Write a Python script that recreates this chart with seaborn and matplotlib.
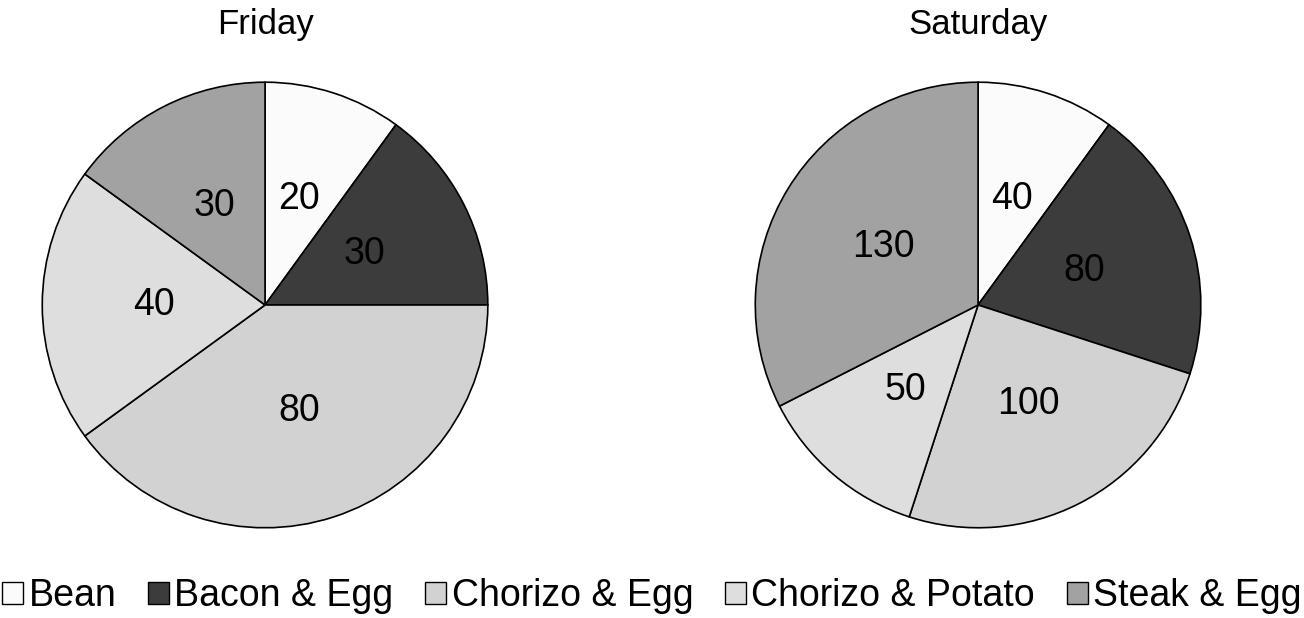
import seaborn as sns
import matplotlib.pyplot as plt
from matplotlib.patches import Patch

categories = ['Bean', 'Bacon & Egg', 'Chorizo & Egg', 'Chorizo & Potato', 'Steak & Egg']
friday = [20, 30, 80, 40, 30]
saturday = [40, 80, 100, 50, 130]
days = ['Friday', 'Saturday']
colors = ['#fbfbfb', '#3c3c3c', '#d2d2d2', '#dedede', '#a2a2a2']

sns.set_style('white')
plt.rcParams['font.family'] = ['Liberation Sans', 'DejaVu Sans']
plt.rcParams['text.color'] = 'black'

fig = plt.figure(figsize=(13.04, 6.18), dpi=100)

# axes placed so each pie has radius ~225 px
boxes = [[0.0307, 0.1424, 0.3451, 0.7282], [0.5775, 0.1424, 0.3451, 0.7282]]

for box, day, vals in zip(boxes, days, [friday, saturday]):
    ax = fig.add_axes(box)
    ax.pie(vals, colors=colors, startangle=90, counterclock=False,
           labels=[str(v) for v in vals], labeldistance=0.5,
           textprops={'fontsize': 27, 'color': 'black', 'ha': 'center', 'va': 'center'},
           wedgeprops={'edgecolor': 'black', 'linewidth': 1.2})
    ax.set_xlim(-1.01, 1.01)
    ax.set_ylim(-1.01, 1.01)
    ax.set_aspect('equal')
    fig.text(box[0] + box[2] / 2, 0.96, day, ha='center', va='center', fontsize=25)

handles = [Patch(facecolor=c, edgecolor='black', linewidth=1) for c in colors]
fig.legend(handles, categories, loc='center', bbox_to_anchor=(0.5, 0.035), ncol=5,
           frameon=False, fontsize=27, handlelength=0.55, handleheight=0.55,
           handletextpad=0.15, columnspacing=0.85, borderaxespad=0)

fig.savefig('out.png', dpi=100)
